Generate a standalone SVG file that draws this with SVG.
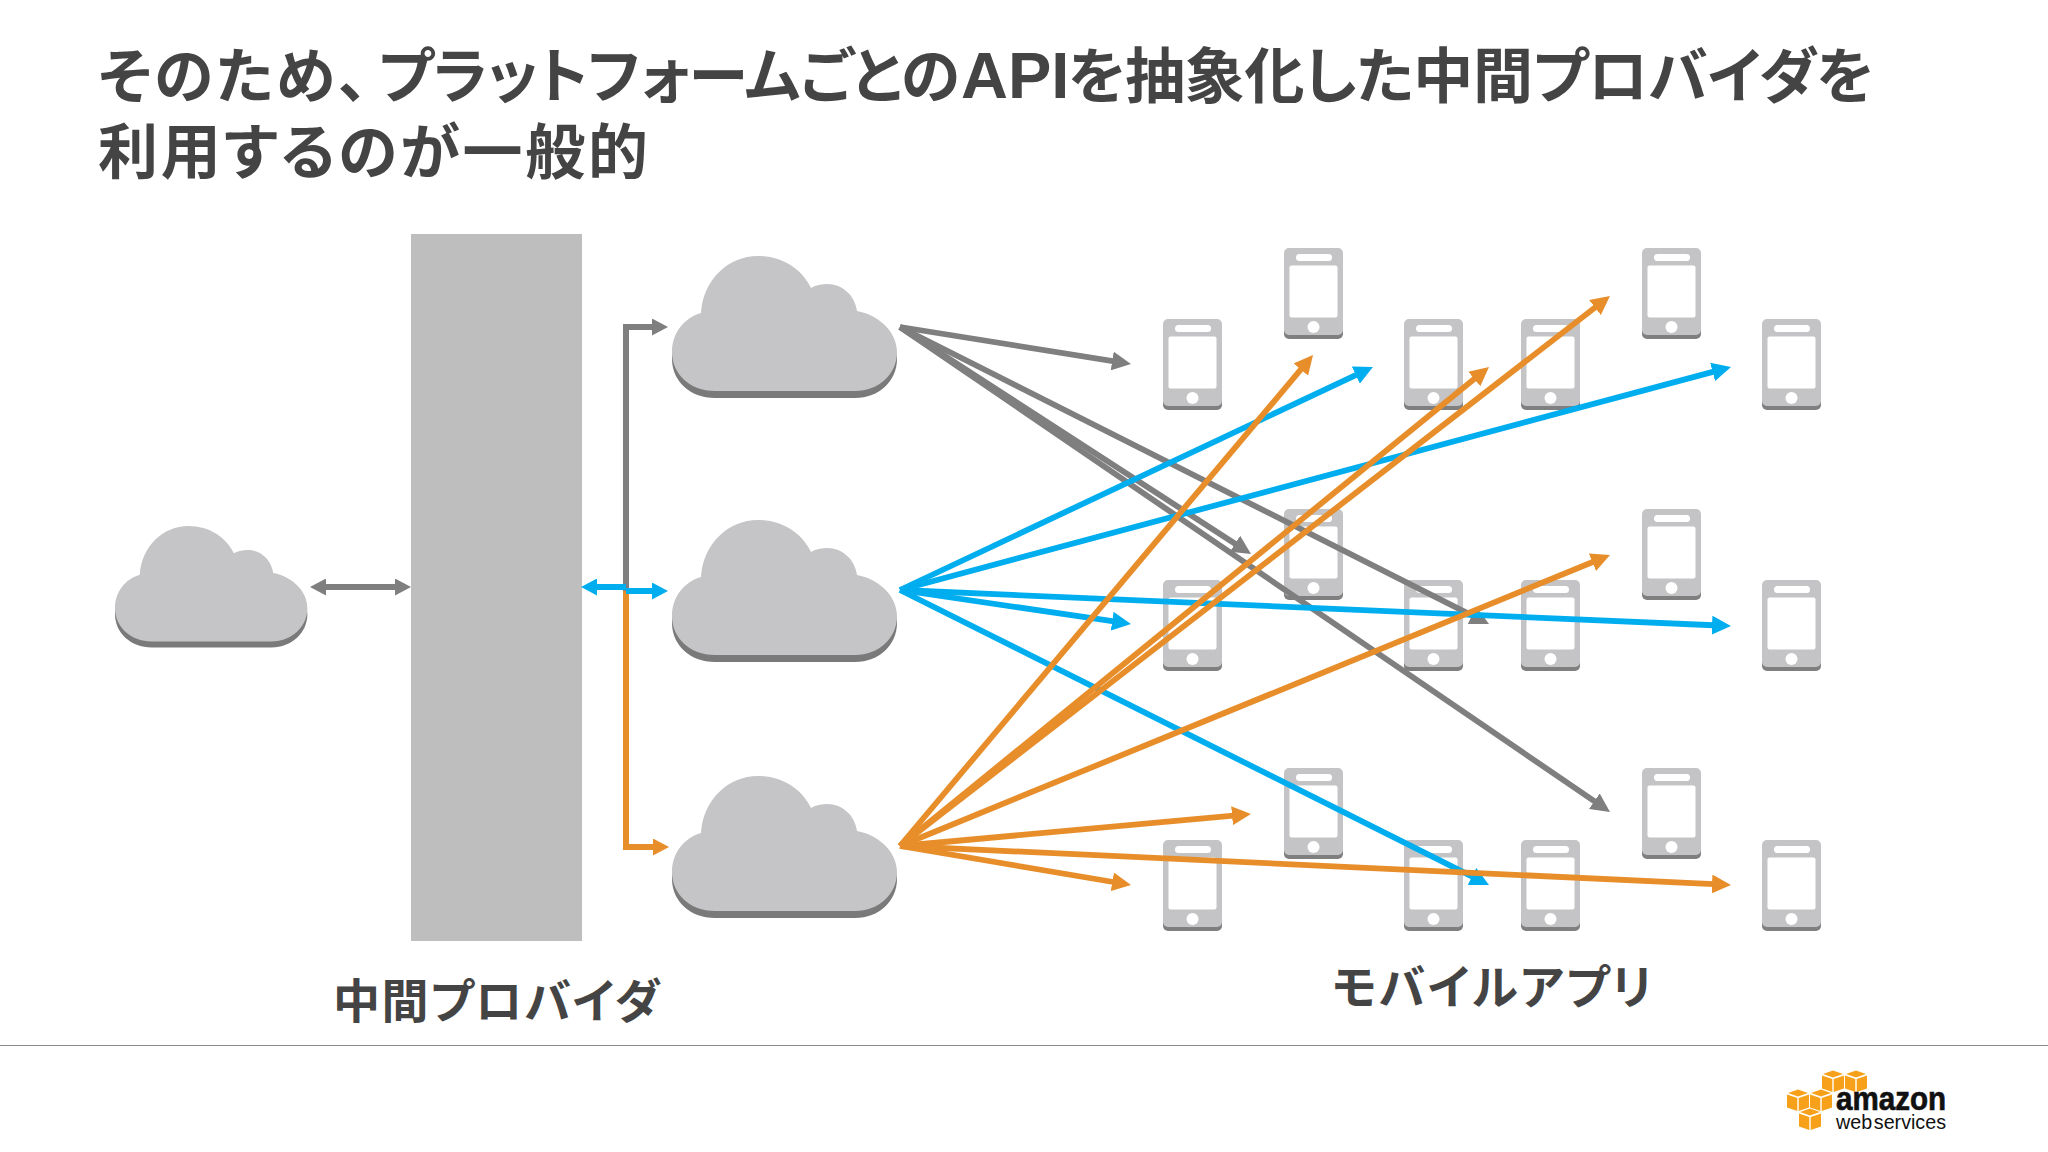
<svg xmlns="http://www.w3.org/2000/svg" xmlns:xlink="http://www.w3.org/1999/xlink" width="2048" height="1152" viewBox="0 0 2048 1152">
<style>
.title{font-family:"Noto Sans CJK JP","Noto Sans",sans-serif;font-weight:700;font-size:60px;fill:#444;font-feature-settings:"palt"}
.latin{font-family:"Liberation Sans",Arial,sans-serif;font-weight:700;font-size:65px}
.label{font-family:"Noto Sans CJK JP","Noto Sans",sans-serif;font-weight:700;font-size:47px;fill:#444;font-feature-settings:"palt"}
.gray{stroke:#7f7f7f;fill:none}
.blue{stroke:#00aeef;fill:none}
.orange{stroke:#e78e2b;fill:none}
.fan{stroke-width:5.800}
.elbow{stroke-width:6}
.body{fill:#c5c5c7}
.shade{fill:#7a7a7a}
.phone{fill:#c4c4c6}
.pshade{fill:#7f7f7f}
.cube{fill:#f7a11a}
</style>
<defs>
<marker id="ag" markerUnits="userSpaceOnUse" markerWidth="16" markerHeight="17" refX="4" refY="8.5" orient="auto-start-reverse"><path d="M0 0L16 8.5L0 17z" fill="#7f7f7f"/></marker>
<marker id="ab" markerUnits="userSpaceOnUse" markerWidth="16" markerHeight="17" refX="4" refY="8.5" orient="auto-start-reverse"><path d="M0 0L16 8.5L0 17z" fill="#00aeef"/></marker>
<marker id="ao" markerUnits="userSpaceOnUse" markerWidth="16" markerHeight="17" refX="4" refY="8.5" orient="auto-start-reverse"><path d="M0 0L16 8.5L0 17z" fill="#e78e2b"/></marker>
<marker id="fg" markerUnits="userSpaceOnUse" markerWidth="19" markerHeight="19" refX="7" refY="9.500" orient="auto"><path d="M0 0L19 9.500L0 19z" fill="#7f7f7f"/></marker>
<marker id="fb" markerUnits="userSpaceOnUse" markerWidth="19" markerHeight="19" refX="7" refY="9.500" orient="auto"><path d="M0 0L19 9.500L0 19z" fill="#00aeef"/></marker>
<marker id="fo" markerUnits="userSpaceOnUse" markerWidth="19" markerHeight="19" refX="7" refY="9.500" orient="auto"><path d="M0 0L19 9.500L0 19z" fill="#e78e2b"/></marker>
<g id="cloud">
<path class="shade" transform="translate(0 7)" d="M43 135C18 135 0 118 0 96C0 77 12 62 29 57C31 24 56 0 86 0C110 0 130 13 139 32C144 29 150 28 155 28C171 28 183 40 185 55C207 59 225 76 225 96C225 118 207 135 183 135Z"/>
<path class="body" d="M43 135C18 135 0 118 0 96C0 77 12 62 29 57C31 24 56 0 86 0C110 0 130 13 139 32C144 29 150 28 155 28C171 28 183 40 185 55C207 59 225 76 225 96C225 118 207 135 183 135Z"/>
</g>
<g id="device">
<rect class="pshade" x="0" y="4" width="59" height="87" rx="5"/>
<rect class="phone" x="0" y="0" width="59" height="87" rx="5"/>
<rect x="5.500" y="17.500" width="48" height="52" rx="2" fill="#fff"/>
<rect x="12" y="6" width="36" height="7" rx="3.500" fill="#fff"/>
<circle cx="29.500" cy="79" r="6" fill="#fff"/>
</g>
<g id="cubeshape">
<path class="cube" d="M1 4L11 .5L21 4L11 7.500z"/>
<path class="cube" d="M0 5.500L10.300 9V22L0 18.500z"/>
<path class="cube" d="M22 5.500L11.700 9V22L22 18.500z"/>
</g>
</defs>
<rect width="2048" height="1152" fill="#fff"/>
<g id="title">
<text class="title" y="98"><tspan x="98" textLength="270" lengthAdjust="spacing">そのため、</tspan><tspan x="378" textLength="582" lengthAdjust="spacing">プラットフォームごとの</tspan><tspan class="latin" x="961">API</tspan><tspan x="1068" textLength="806" lengthAdjust="spacing">を抽象化した中間プロバイダを</tspan></text>
<text class="title" x="98" y="174" textLength="550" lengthAdjust="spacing">利用するのが一般的</text>
</g>
<g id="provider-panel"><rect x="411" y="234" width="171" height="707" fill="#bebebe"/></g>
<g id="cloud-source"><use href="#cloud" transform="translate(115 526) scale(.855 .855)"/></g>
<g id="cloud-1"><use href="#cloud" x="672" y="256"/></g>
<g id="cloud-2"><use href="#cloud" x="672" y="520"/></g>
<g id="cloud-3"><use href="#cloud" x="672" y="776"/></g>
<g id="phone-1-1"><use href="#device" x="1163" y="319"/></g>
<g id="phone-1-2"><use href="#device" x="1284" y="248"/></g>
<g id="phone-1-3"><use href="#device" x="1404" y="319"/></g>
<g id="phone-1-4"><use href="#device" x="1521" y="319"/></g>
<g id="phone-1-5"><use href="#device" x="1642" y="248"/></g>
<g id="phone-1-6"><use href="#device" x="1762" y="319"/></g>
<g id="phone-2-1"><use href="#device" x="1163" y="580"/></g>
<g id="phone-2-2"><use href="#device" x="1284" y="509"/></g>
<g id="phone-2-3"><use href="#device" x="1404" y="580"/></g>
<g id="phone-2-4"><use href="#device" x="1521" y="580"/></g>
<g id="phone-2-5"><use href="#device" x="1642" y="509"/></g>
<g id="phone-2-6"><use href="#device" x="1762" y="580"/></g>
<g id="phone-3-1"><use href="#device" x="1163" y="840"/></g>
<g id="phone-3-2"><use href="#device" x="1284" y="768"/></g>
<g id="phone-3-3"><use href="#device" x="1404" y="840"/></g>
<g id="phone-3-4"><use href="#device" x="1521" y="840"/></g>
<g id="phone-3-5"><use href="#device" x="1642" y="768"/></g>
<g id="phone-3-6"><use href="#device" x="1762" y="840"/></g>
<g id="connectors">
<path class="gray elbow" d="M322 587H399" marker-start="url(#ag)" marker-end="url(#ag)"/>
<path class="orange elbow" d="M626 591V847H657" marker-end="url(#ao)"/>
<path class="gray elbow" d="M626 591V327H656" marker-end="url(#ag)"/>
<path class="blue elbow" d="M593 587H626" marker-start="url(#ab)"/>
<path class="blue elbow" d="M626 591H656" marker-end="url(#ab)"/>
<g class="fan">
<path class="gray" d="M900 327L1119.100 362.100" marker-end="url(#fg)"/>
<path class="gray" d="M900 327L1240.900 547.500" marker-end="url(#fg)"/>
<path class="gray" d="M900 327L1478.300 618.600" marker-end="url(#fg)"/>
<path class="gray" d="M900 327L1600.100 805.200" marker-end="url(#fg)"/>
<path class="blue" d="M900 590L1362.100 372.100" marker-end="url(#fb)"/>
<path class="blue" d="M900 590L1719.400 370.100" marker-end="url(#fb)"/>
<path class="blue" d="M900 590L1119.100 622.200" marker-end="url(#fb)"/>
<path class="blue" d="M900 590L1719 625.500" marker-end="url(#fb)"/>
<path class="blue" d="M900 590L1478.300 879.600" marker-end="url(#fb)"/>
<path class="orange" d="M900 846L1305.300 364.200" marker-end="url(#fo)"/>
<path class="orange" d="M900 846L1479.700 374.600" marker-end="url(#fo)"/>
<path class="orange" d="M900 846L1600.500 303.300" marker-end="url(#fo)"/>
<path class="orange" d="M900 846L1598.900 559.500" marker-end="url(#fo)"/>
<path class="orange" d="M900 846L1239 815.100" marker-end="url(#fo)"/>
<path class="orange" d="M900 846L1119.200 883" marker-end="url(#fo)"/>
<path class="orange" d="M900 846L1719 884.400" marker-end="url(#fo)"/>
</g>
</g>
<g id="labels">
<text class="label" x="333" y="1018" textLength="327" lengthAdjust="spacing">中間プロバイダ</text>
<text class="label" x="1332" y="1004" textLength="320" lengthAdjust="spacing">モバイルアプリ</text>
</g>
<rect x="0" y="1045" width="2048" height="1" fill="#8c8c8c"/>
<g id="aws-logo">
<use href="#cubeshape" x="1822" y="1070"/>
<use href="#cubeshape" x="1845" y="1070"/>
<use href="#cubeshape" x="1787" y="1089"/>
<use href="#cubeshape" x="1810" y="1089"/>
<use href="#cubeshape" x="1799" y="1108"/>
<text x="1836" y="1110" font-family="Liberation Sans,Arial,sans-serif" font-weight="700" font-size="34" textLength="110" lengthAdjust="spacingAndGlyphs" fill="#111" stroke="#111" stroke-width=".7">amazon</text>
<text x="1836" y="1129" font-family="Liberation Sans,Arial,sans-serif" font-size="21" word-spacing="-4" textLength="110" lengthAdjust="spacingAndGlyphs" fill="#111">web services</text>
</g>
</svg>
